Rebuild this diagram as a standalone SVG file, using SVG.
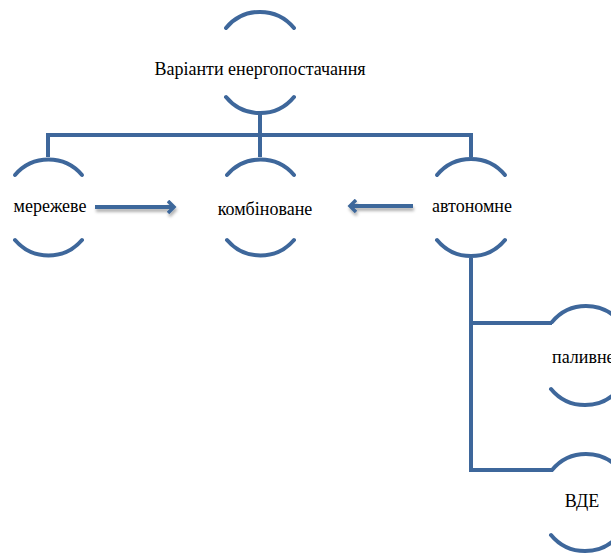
<svg xmlns="http://www.w3.org/2000/svg" width="611" height="554" viewBox="0 0 611 554">
<style>
.arc{fill:none;stroke:#3E679B;stroke-width:4;stroke-linecap:round}
.ln{fill:none;stroke:#3E679B;stroke-width:4}
.ar{fill:none;stroke:#3E679B;stroke-width:4;marker-end:url(#ah)}
.t{font-family:'Liberation Serif','DejaVu Serif',serif;font-size:18px;fill:#000;text-anchor:middle}
</style>
<defs>
<marker id="ah" viewBox="0 0 10 14" refX="7" refY="7" markerWidth="10" markerHeight="14" markerUnits="userSpaceOnUse" orient="auto">
<path d="M1,1 L7,7 L1,13" fill="none" stroke="#3E679B" stroke-width="3.5" stroke-linejoin="miter"/>
</marker>
<filter id="sh" filterUnits="userSpaceOnUse" x="0" y="0" width="611" height="554">
<feDropShadow dx="1" dy="3" stdDeviation="1.5" flood-color="#000" flood-opacity="0.3"/>
</filter>
</defs>
<rect width="611" height="554" fill="#fff"/>
<g id="connectors">
<path class="ln" d="M260,113 V135 M46,135 H473 M48,135 V157 M260,135 V157 M471,135 V157"/>
<path class="ln" d="M471,258 V470 H552 M471,323 H552"/>
<path class="ar" filter="url(#sh)" d="M95,207 H174"/>
<path class="ar" filter="url(#sh)" d="M413,206 H350"/>
</g>
<g id="node-top">
<path class="arc" d="M226,28 A44,44 0 0 1 294,28"/>
<path class="arc" d="M226,97 A44,44 0 0 0 294,97"/>
<text class="t" x="260" y="75">Варіанти енергопостачання</text>
</g>
<g id="node-merezheve">
<path class="arc" d="M15,175 A44,44 0 0 1 82,175"/>
<path class="arc" d="M15,240 A44,44 0 0 0 82,240"/>
<text class="t" x="50" y="212">мережеве</text>
</g>
<g id="node-kombinovane">
<path class="arc" d="M227,175 A44,44 0 0 1 294,175"/>
<path class="arc" d="M227,240 A44,44 0 0 0 294,240"/>
<text class="t" x="265" y="215">комбіноване</text>
</g>
<g id="node-avtonomne">
<path class="arc" d="M437,175 A44,44 0 0 1 505,175"/>
<path class="arc" d="M437,240 A44,44 0 0 0 505,240"/>
<text class="t" x="472" y="212">автономне</text>
</g>
<g id="node-palyvne">
<path class="arc" d="M552,322 A44,44 0 0 1 620,322"/>
<path class="arc" d="M551,389 A44,44 0 0 0 619,389"/>
<text class="t" x="552" y="363" style="text-anchor:start">паливне</text>
</g>
<g id="node-vde">
<path class="arc" d="M552,470 A44,44 0 0 1 620,470"/>
<path class="arc" d="M551,535 A44,44 0 0 0 619,535"/>
<text class="t" x="582" y="507">ВДЕ</text>
</g>
</svg>
